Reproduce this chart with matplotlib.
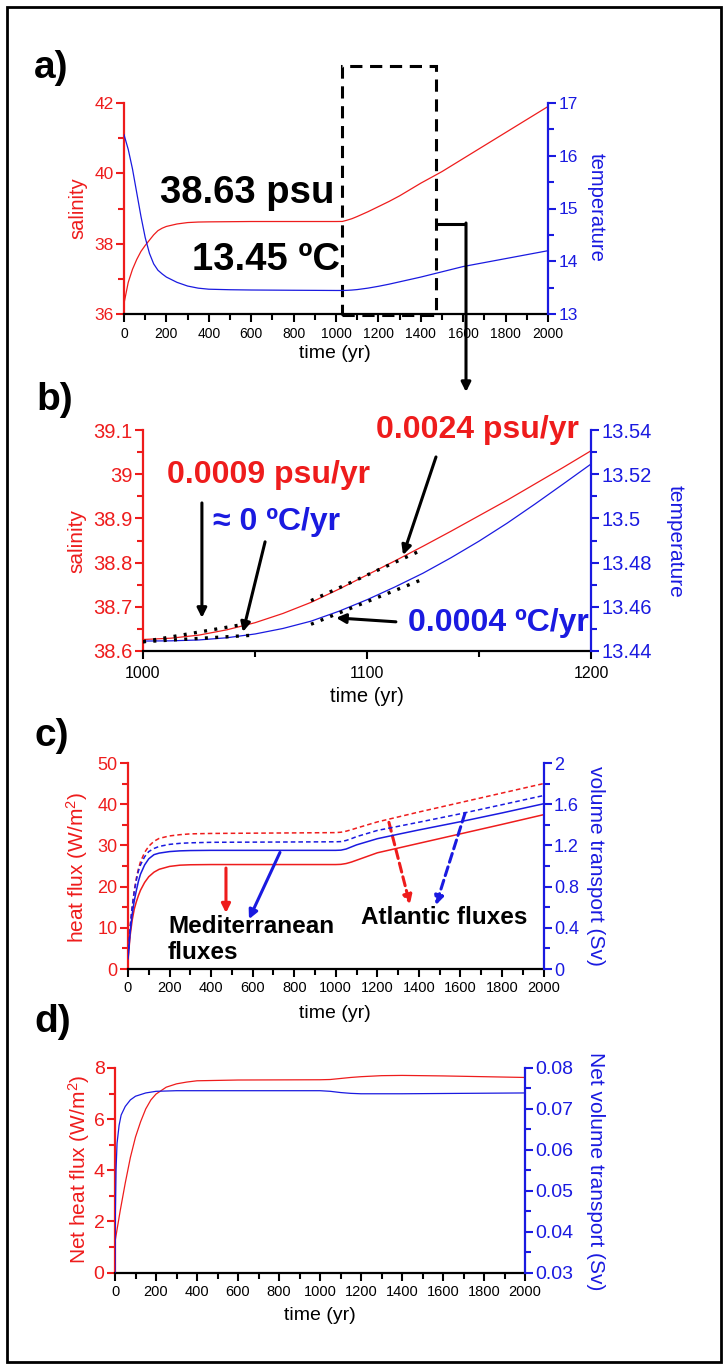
import matplotlib
matplotlib.use('Agg')
import matplotlib.pyplot as plt
from matplotlib.patches import Rectangle, FancyArrowPatch
from matplotlib.lines import Line2D
from matplotlib.ticker import MultipleLocator, FuncFormatter

# ---------------- data ----------------
# panel a
t_a = [0, 20, 40, 60, 80, 100, 120, 140, 160, 180, 200, 250, 300, 350, 400, 500, 600, 800, 1000,
       1030, 1050, 1075, 1100, 1150, 1200, 1250, 1300, 1400, 1500, 1600, 1800, 2000]
sal_a = [36.3, 36.9, 37.27, 37.55, 37.78, 37.95, 38.1, 38.25, 38.37, 38.44, 38.49, 38.56, 38.6,
         38.615, 38.62, 38.625, 38.63, 38.63, 38.63, 38.632, 38.664, 38.71, 38.772, 38.906,
         39.053, 39.2, 39.36, 39.72, 40.05, 40.42, 41.16, 41.9]
temp_a = [16.4, 16.12, 15.75, 15.3, 14.85, 14.45, 14.15, 13.95, 13.83, 13.76, 13.7, 13.6, 13.53,
          13.49, 13.47, 13.46, 13.455, 13.45, 13.446, 13.446, 13.448, 13.454, 13.463, 13.49,
          13.525, 13.565, 13.61, 13.70, 13.80, 13.90, 14.05, 14.2]

# panel b
t_b = [1000, 1012.5, 1025, 1037.5, 1050, 1062.5, 1075, 1087.5, 1100, 1112.5, 1125, 1137.5, 1150,
       1162.5, 1175, 1187.5, 1200]
sal_b = [38.626, 38.629, 38.636, 38.648, 38.664, 38.685, 38.71, 38.74, 38.772, 38.804, 38.837,
         38.871, 38.906, 38.941, 38.978, 39.015, 39.053]
temp_b = [13.4445, 13.4446, 13.4450, 13.4460, 13.4477, 13.4502, 13.4535, 13.4580, 13.4632,
          13.4690, 13.4752, 13.4822, 13.4897, 13.4978, 13.5065, 13.5155, 13.5246]
# fitted trend segments (dotted)
t_fit_s1 = [1000, 1048]
sal_fit_s1 = [38.621, 38.663]
t_fit_s2 = [1075, 1123]
sal_fit_s2 = [38.714, 38.825]
t_fit_t1 = [1000, 1050]
temp_fit_t1 = [13.4442, 13.4472]
t_fit_t2 = [1075, 1124]
temp_fit_t2 = [13.4521, 13.4721]

# panel c
t_c = [0, 5, 10, 20, 30, 40, 50, 60, 80, 100, 125, 150, 200, 250, 300, 400, 1000, 1025, 1050,
       1075, 1100, 1150, 1200, 1300, 1400, 1600, 1800, 2000]
heat_med = [2.0, 5.0, 8.0, 11.8, 14.5, 16.3, 17.8, 19.1, 21.0, 22.4, 23.5, 24.2, 24.9, 25.2,
            25.3, 25.35, 25.35, 25.4, 25.6, 25.95, 26.4, 27.3, 28.2, 29.35, 30.5, 32.8, 35.1, 37.45]
heat_atl = [3.0, 6.5, 10.0, 15.0, 19.0, 22.0, 24.3, 26.0, 28.3, 29.8, 31.0, 31.7, 32.3, 32.6,
            32.8, 32.9, 33.1, 33.2, 33.45, 33.8, 34.2, 34.95, 35.7, 36.9, 38.1, 40.4, 42.7, 45.0]
vol_med = [0.1, 0.22, 0.35, 0.53, 0.66, 0.76, 0.85, 0.92, 1.01, 1.07, 1.11, 1.125, 1.14, 1.147,
           1.15, 1.152, 1.152, 1.154, 1.165, 1.185, 1.205, 1.235, 1.265, 1.308, 1.35, 1.43,
           1.515, 1.604]
vol_atl = [0.12, 0.26, 0.4, 0.6, 0.75, 0.86, 0.95, 1.01, 1.09, 1.14, 1.17, 1.19, 1.21, 1.22,
           1.225, 1.23, 1.235, 1.237, 1.248, 1.265, 1.285, 1.315, 1.345, 1.385, 1.425, 1.507,
           1.595, 1.684]

# panel d
t_d = [0, 25, 50, 75, 100, 125, 150, 175, 200, 250, 300, 350, 400, 600, 1000, 1050, 1100, 1150,
       1200, 1300, 1400, 1600, 1800, 2000]
net_heat = [1.2, 2.4, 3.5, 4.5, 5.3, 5.9, 6.4, 6.75, 6.98, 7.25, 7.38, 7.45, 7.5, 7.53, 7.54,
            7.55, 7.59, 7.63, 7.66, 7.7, 7.71, 7.69, 7.66, 7.63]
t_d2 = [0, 2, 5, 10, 20, 30, 50, 75, 100, 150, 200, 300, 1000, 1050, 1100, 1150, 1200, 1400, 2000]
net_vol = [0.03, 0.045, 0.055, 0.0616, 0.066, 0.0685, 0.0706, 0.0722, 0.0731, 0.0739, 0.0743,
           0.07445, 0.07445, 0.0743, 0.074, 0.0738, 0.0737, 0.0737, 0.0739]

# ---------------- style ----------------
plt.rcParams['font.family'] = ['Liberation Sans', 'DejaVu Sans']
plt.rcParams['mathtext.fontset'] = 'custom'
plt.rcParams['mathtext.rm'] = 'Liberation Sans'
plt.rcParams['mathtext.it'] = 'Liberation Sans:italic'
plt.rcParams['mathtext.bf'] = 'Liberation Sans:bold'

RED = '#ee1c1c'
BLUE = '#1a1ae0'
W, H = 727, 1366
fig = plt.figure(figsize=(W / 100, H / 100), dpi=100)


def fx(x):
    return x / W


def fy(y):
    return 1 - y / H


def axes_at(l, t, r, b):
    return fig.add_axes([fx(l), fy(b), (r - l) / W, (b - t) / H])


fmt = FuncFormatter(lambda v, p: f'{round(v, 6):g}')


def style(ax, ax2, xmaj, xmin, ymaj, ymin, y2maj, y2min, ysize, y2size, xsize, xpad=3.5):
    ax.spines['top'].set_visible(False)
    ax.spines['right'].set_visible(False)
    for s in ['top', 'left', 'bottom']:
        ax2.spines[s].set_visible(False)
    ax.spines['left'].set_color(RED)
    ax2.spines['right'].set_color(BLUE)
    for sp in [ax.spines['left'], ax.spines['bottom'], ax2.spines['right']]:
        sp.set_linewidth(1.6)
    ax.xaxis.set_major_locator(MultipleLocator(xmaj))
    ax.xaxis.set_minor_locator(MultipleLocator(xmin))
    ax.yaxis.set_major_locator(MultipleLocator(ymaj))
    ax.yaxis.set_minor_locator(MultipleLocator(ymin))
    ax2.yaxis.set_major_locator(MultipleLocator(y2maj))
    ax2.yaxis.set_minor_locator(MultipleLocator(y2min))
    ax.yaxis.set_major_formatter(fmt)
    ax2.yaxis.set_major_formatter(fmt)
    ax.xaxis.set_major_formatter(fmt)
    ax.tick_params(axis='x', which='both', direction='out', width=1.5, color='k', labelsize=xsize, pad=xpad)
    ax.tick_params(axis='x', which='major', length=5.5)
    ax.tick_params(axis='x', which='minor', length=4)
    ax.tick_params(axis='y', which='both', direction='out', width=1.5, colors=RED, labelsize=ysize, pad=2)
    ax.tick_params(axis='y', which='major', length=5.5)
    ax.tick_params(axis='y', which='minor', length=4)
    ax2.tick_params(axis='y', which='both', direction='out', width=1.5, colors=BLUE, labelsize=y2size, pad=2)
    ax2.tick_params(axis='y', which='major', length=5.5)
    ax2.tick_params(axis='y', which='minor', length=4)


def arrow(ax, start, end, color='k', ls='-', lw=2.2, ms=14):
    ax.annotate('', xy=end, xytext=start, xycoords='data', textcoords='data',
                annotation_clip=False,
                arrowprops=dict(arrowstyle='-|>', color=color, lw=lw, linestyle=ls,
                                mutation_scale=ms, shrinkA=0, shrinkB=0))


LETTER = 28

# ---------------- panel a ----------------
ax = axes_at(124, 103, 548, 314)
ax2 = ax.twinx()
ax.plot(t_a, sal_a, color=RED, lw=0.9)
ax2.plot(t_a, temp_a, color=BLUE, lw=0.9)
ax.set_xlim(0, 2000)
ax.set_ylim(36, 42)
ax2.set_ylim(13, 17)
style(ax, ax2, 200, 100, 2, 1, 1, 0.5, 12.5, 12.5, 10)
fig.text(fx(78), fy(208), 'salinity', color=RED, rotation=90, ha='center', va='center', fontsize=14.5)
fig.text(fx(596), fy(207), 'temperature', color=BLUE, rotation=270, ha='center', va='center', fontsize=14.5)
fig.text(fx(335), fy(354), 'time (yr)', ha='center', va='center', fontsize=14)
ax.text(170, 39.44, '38.63 psu', fontsize=27.5, fontweight='bold', ha='left', va='center')
ax.text(321, 37.54, '13.45 ºC', fontsize=27.5, fontweight='bold', ha='left', va='center')
ax.add_patch(Rectangle((1030, 35.97), 442, 7.08, fill=False, ec='k', lw=2.2,
                       linestyle=(0, (4, 2.5)), clip_on=False, zorder=5))
fig.add_artist(Line2D([fx(436), fx(466)], [fy(224), fy(224)], color='k', lw=2.2,
                      solid_capstyle='butt', zorder=6))
fig.add_artist(FancyArrowPatch((fx(466), fy(223)), (fx(466), fy(392)), transform=fig.transFigure,
                               arrowstyle='-|>', mutation_scale=14, lw=2.2, color='k',
                               shrinkA=0, shrinkB=0, zorder=6))
fig.text(fx(34), fy(68), 'a)', fontsize=LETTER, fontweight='bold', ha='left', va='center')

# ---------------- panel b ----------------
bx = axes_at(143, 430, 591, 651)
bx2 = bx.twinx()
bx.plot(t_b, sal_b, color=RED, lw=0.9)
bx2.plot(t_b, temp_b, color=BLUE, lw=0.9)
dot = dict(color='k', lw=2.4, linestyle=(0, (0.9, 2.2)), dash_capstyle='butt', zorder=4)
bx.plot(t_fit_s1, sal_fit_s1, **dot)
bx.plot(t_fit_s2, sal_fit_s2, **dot)
bx2.plot(t_fit_t1, temp_fit_t1, **dot)
bx2.plot(t_fit_t2, temp_fit_t2, **dot)
bx.set_xlim(1000, 1200)
bx.set_ylim(38.6, 39.1)
bx2.set_ylim(13.44, 13.54)
style(bx, bx2, 100, 50, 0.1, 0.05, 0.02, 0.01, 14.5, 14.5, 11.5, xpad=5.5)
fig.text(fx(77), fy(541), 'salinity', color=RED, rotation=90, ha='center', va='center', fontsize=15)
fig.text(fx(675), fy(541), 'temperature', color=BLUE, rotation=270, ha='center', va='center', fontsize=15)
fig.text(fx(367), fy(697), 'time (yr)', ha='center', va='center', fontsize=14.5)
bx.text(1104, 39.1, '0.0024 psu/yr', color=RED, fontsize=23, fontweight='bold', ha='left', va='center')
bx.text(1010.7, 38.998, '0.0009 psu/yr', color=RED, fontsize=23, fontweight='bold', ha='left', va='center')
bx.text(1031.3, 38.892, '≈ 0 ºC/yr', color=BLUE, fontsize=23, fontweight='bold', ha='left', va='center')
bx.text(1118.3, 38.663, '0.0004 ºC/yr', color=BLUE, fontsize=23, fontweight='bold', ha='left', va='center')
arrow(bx, (1026.3, 38.935), (1026.3, 38.675))
arrow(bx, (1054.5, 38.847), (1044.6, 38.643))
arrow(bx, (1130.8, 39.039), (1116.1, 38.817))
arrow(bx, (1112.9, 38.666), (1086.2, 38.675))
fig.text(fx(36), fy(400), 'b)', fontsize=LETTER, fontweight='bold', ha='left', va='center')

# ---------------- panel c ----------------
cx = axes_at(128, 763, 543.5, 969)
cx2 = cx.twinx()
cx.plot(t_c, heat_med, color=RED, lw=1.1)
cx.plot(t_c, heat_atl, color=RED, lw=1.1, linestyle=(0, (3, 2)))
cx2.plot(t_c, vol_med, color=BLUE, lw=1.1)
cx2.plot(t_c, vol_atl, color=BLUE, lw=1.1, linestyle=(0, (3, 2)))
cx.set_xlim(0, 2000)
cx.set_ylim(0, 50)
cx2.set_ylim(0, 2)
style(cx, cx2, 200, 100, 10, 5, 0.4, 0.2, 13, 13, 10.5)
fig.text(fx(77), fy(867), 'heat flux (W/m$^2$)', color=RED, rotation=90, ha='center', va='center', fontsize=15)
fig.text(fx(596), fy(866), 'volume transport (Sv)', color=BLUE, rotation=270, ha='center', va='center', fontsize=15)
fig.text(fx(335), fy(1013), 'time (yr)', ha='center', va='center', fontsize=14)
cx.text(192.5, 7.2, 'Mediterranean\nfluxes', fontsize=17.5, fontweight='bold', ha='left', va='center',
        linespacing=1.2)
cx.text(1121, 12.6, 'Atlantic fluxes', fontsize=17.5, fontweight='bold', ha='left', va='center')
arrow(cx, (471.6, 24.5), (471.6, 13.6), color=RED, lw=2.2, ms=13)
arrow(cx, (731.5, 28.3), (582.3, 12.1), color=BLUE, lw=2.2, ms=13)
arrow(cx, (1256, 35.6), (1357, 15.7), color=RED, ls=(0, (3, 1.6)), lw=2.2, ms=13)
arrow(cx, (1622, 37.8), (1482, 15.5), color=BLUE, ls=(0, (3, 1.6)), lw=2.2, ms=13)
fig.text(fx(34), fy(736), 'c)', fontsize=LETTER, fontweight='bold', ha='left', va='center')

# ---------------- panel d ----------------
dx = axes_at(115, 1068, 525, 1272.5)
dx2 = dx.twinx()
dx.plot(t_d, net_heat, color=RED, lw=0.9)
dx2.plot(t_d2, net_vol, color=BLUE, lw=0.9)
dx.set_xlim(0, 2000)
dx.set_ylim(0, 8)
dx2.set_ylim(0.03, 0.08)
style(dx, dx2, 200, 100, 2, 1, 0.01, 0.005, 14, 14, 10.5)
fig.text(fx(79), fy(1169), 'Net heat flux (W/m$^2$)', color=RED, rotation=90, ha='center', va='center', fontsize=15)
fig.text(fx(596), fy(1171), 'Net volume transport (Sv)', color=BLUE, rotation=270, ha='center', va='center', fontsize=15)
fig.text(fx(320), fy(1315), 'time (yr)', ha='center', va='center', fontsize=14)
fig.text(fx(34), fy(1022), 'd)', fontsize=LETTER, fontweight='bold', ha='left', va='center')

# outer frame
fig.add_artist(Rectangle((fx(7), fy(1362)), (721 - 7) / W, (1362 - 7) / H, transform=fig.transFigure,
                         fill=False, ec='k', lw=2.0))

fig.savefig('out.png', dpi=100)
